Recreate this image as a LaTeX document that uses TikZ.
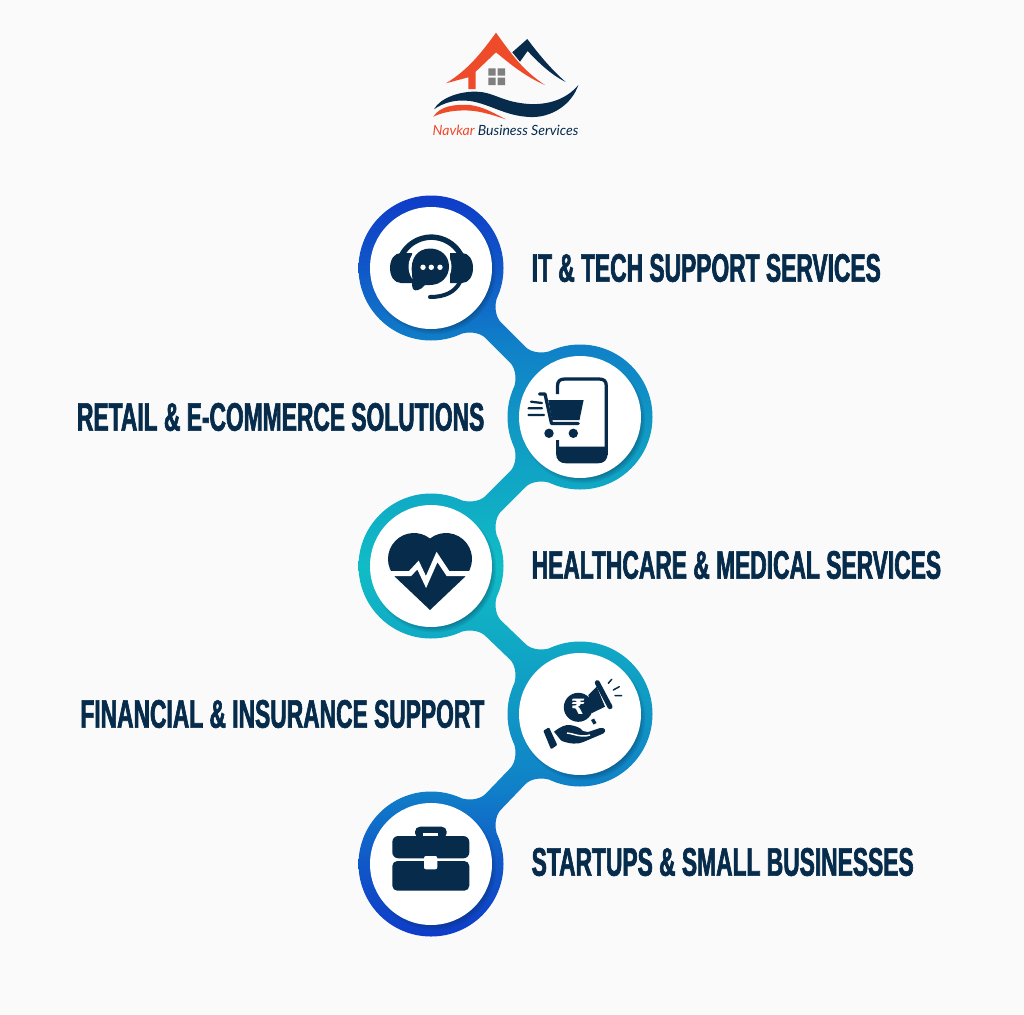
\documentclass[tikz,border=0pt]{standalone}
\usepackage{fontspec}
\usetikzlibrary{positioning,calc,shadows,backgrounds}
\newfontfamily\labelfont[UprightFont=* Bold,FakeStretch=0.574,FakeBold=1.6]{Liberation Sans}
\newfontfamily\logofont{Lato}
\newfontfamily\symbfont{DejaVu Sans}
\definecolor{pagebg}{HTML}{FAFAFB}
\definecolor{navy}{HTML}{062B4B}
\definecolor{roofred}{HTML}{EE4B2B}
\definecolor{panegray}{HTML}{7F7F7F}
\definecolor{ringblue}{HTML}{0F3CC8}
\definecolor{ringmid}{HTML}{1058C8}
\definecolor{ringsky}{HTML}{1080C8}
\definecolor{ringpale}{HTML}{1098C4}
\definecolor{ringteal}{HTML}{10BCC6}
\pgfdeclareverticalshading{ringband}{100bp}{
  color(0bp)=(ringblue);
  color(25bp)=(ringblue);
  color(30bp)=(ringmid);
  color(35bp)=(ringsky);
  color(40.5bp)=(ringpale);
  color(50bp)=(ringteal);
  color(59.5bp)=(ringpale);
  color(65bp)=(ringsky);
  color(70bp)=(ringmid);
  color(75bp)=(ringblue);
  color(100bp)=(ringblue)}
% one neck between two rings, #1 and #2 are the hubs, #3 the direction
\newcommand{\neckpath}[3]{
  ($(#1.center)+(#3:67)+(#3+90:-27)$)
  .. controls ($(#1.center)+(#3:71)+(#3+90:-18)$) and ($(#1.center)+(#3:80)+(#3+90:-11)$) ..
  ($(#1.center)+(#3:88)+(#3+90:-11)$) -- ($(#2.center)+(#3:-88)+(#3+90:-11)$)
  .. controls ($(#2.center)+(#3:-80)+(#3+90:-11)$) and ($(#2.center)+(#3:-71)+(#3+90:-18)$) ..
  ($(#2.center)+(#3:-67)+(#3+90:-27)$)
  -- ($(#2.center)+(#3:-67)+(#3+90:27)$)
  .. controls ($(#2.center)+(#3:-71)+(#3+90:18)$) and ($(#2.center)+(#3:-80)+(#3+90:11)$) ..
  ($(#2.center)+(#3:-88)+(#3+90:11)$) -- ($(#1.center)+(#3:88)+(#3+90:11)$)
  .. controls ($(#1.center)+(#3:80)+(#3+90:11)$) and ($(#1.center)+(#3:71)+(#3+90:18)$) ..
  ($(#1.center)+(#3:67)+(#3+90:27)$) -- cycle
}
\begin{document}
\begin{tikzpicture}[
    x=0.02cm,y=-0.02cm,
    hub/.style={draw=none,circle,fill=white,inner sep=0pt,minimum size=2.44cm,
      circular drop shadow={shadow xshift=0.05cm,shadow yshift=-0.07cm,shadow scale=1.03,fill=navy,opacity=0.55}},
    itemlabel/.style={font=\labelfont\fontsize{22.6pt}{24pt}\selectfont,text=navy,inner sep=0pt},
    iconfill/.style={fill=navy,draw=none},
    iconline/.style={draw=navy,line cap=round,line join=round},
    cutline/.style={draw=white,line join=miter},
  ]
  \useasboundingbox (0,0) rectangle (1024,1014);
  % Hubs
  \node[hub] (it) at (431,268) {};
  \node[hub] (retail) at (580,417) {};
  \node[hub] (health) at (431,566) {};
  \node[hub] (finance) at (580,714) {};
  \node[hub] (startup) at (431,864) {};
  % Page and rings
  \begin{scope}[on background layer]
    \fill[pagebg] (0,0) rectangle (1024,1014);
    \shade[shading=ringband]
      (it.center) circle (72.5) (retail.center) circle (72.5) (health.center) circle (72.5)
      (finance.center) circle (72.5) (startup.center) circle (72.5)
      \neckpath{it}{retail}{45} \neckpath{retail}{health}{135}
      \neckpath{health}{finance}{45} \neckpath{finance}{startup}{135};
  \end{scope}
  % Labels
  \node[itemlabel,right=0.78cm of it] (itlabel) {IT \& TECH SUPPORT SERVICES};
  \node[itemlabel,left=0.68cm of retail] (retaillabel) {RETAIL \& E-COMMERCE SOLUTIONS};
  \node[itemlabel,right=0.78cm of health,yshift=0.02cm] (healthlabel) {HEALTHCARE \& MEDICAL SERVICES};
  \node[itemlabel,left=0.68cm of finance] (financelabel) {FINANCIAL \& INSURANCE SUPPORT};
  \node[itemlabel,right=0.78cm of startup,yshift=0.04cm] (startuplabel) {STARTUPS \& SMALL BUSINESSES};
  % Logo
  \fill[roofred] (496,32.7) .. controls (510,52) and (522,70) .. (545,85)
    .. controls (526,77) and (510,64) .. (496,52.3) -- (475.7,71.7) -- (475.7,89) -- (468.3,89)
    -- (468.3,77.3) -- (446,83.3) .. controls (468,70) and (482,52) .. (496,32.7) -- cycle;
  \fill[navy] (512.3,52.3) -- (527.3,39) .. controls (540,56) and (552,70) .. (565.7,82)
    .. controls (550,74) and (538,62) .. (527.6,51) -- (520,61.7) -- cycle;
  \fill[panegray] (488.3,68.3) rectangle (495.7,75.7) (497.7,68.3) rectangle (505,75.7)
    (488.3,77.7) rectangle (495.7,85) (497.7,77.7) rectangle (505,85);
  \fill[navy] (434,109.3) .. controls (440,98) and (460,91) .. (476.7,91.7)
    .. controls (492,92) and (500,100) .. (520,103) .. controls (545,107) and (566,100) .. (578.3,85)
    .. controls (572,104) and (552,118) .. (530,117) .. controls (505,116) and (490,104) .. (470,101)
    .. controls (455,99) and (443,103) .. (434,109.3) -- cycle;
  \fill[roofred] (433.3,116.7) .. controls (440,106) and (455,104) .. (470,105)
    .. controls (485,107) and (497,115) .. (506,119.3) .. controls (495,116) and (482,111) .. (468,110.5)
    .. controls (455,110) and (443,112) .. (433.3,116.7) -- cycle;
  \node[inner sep=0pt,font=\logofont\itshape\fontsize{8pt}{10pt}\selectfont,text=navy] (logotext) at (505.5,130)
    {\textcolor{roofred}{Navkar} Business Services};
  % Headset icon
  \draw[iconline,line width=0.11cm,line cap=butt] (399,262) arc[start angle=195,end angle=345,radius=33.5];
  \draw[iconfill,fill=navy] (412,253) -- (412,283) -- (401,283) .. controls (394,283) and (390,276) .. (390,268)
    .. controls (390,260) and (394,253) .. (401,253) -- cycle;
  \draw[iconfill,fill=navy] (450,253) -- (450,283) -- (462,283) .. controls (469,283) and (473,276) .. (473,268)
    .. controls (473,260) and (469,253) .. (462,253) -- cycle;
  \fill[white] (430,266.7) circle (21.5);
  \fill[navy] (430,248.5) .. controls (441,248.5) and (449,256) .. (449,266.5)
    .. controls (449,277) and (441,285) .. (430,285) -- (425,285) .. controls (421,290) and (415,292) .. (413,289)
    .. controls (411,285) and (413,280) .. (412,273) .. controls (410,258) and (418,248.5) .. (430,248.5) -- cycle;
  \fill[white] (423,267.3) circle (2.7) (431.3,267.3) circle (2.7) (440,267.3) circle (2.7);
  \draw[iconline,line width=0.08cm] (430,297) .. controls (445,297) and (455,292) .. (460,282);
  % Cart and phone icon
  \draw[iconline,line width=0.065cm,line cap=butt] (557.5,394) -- (557.5,386) .. controls (557.5,381) and (560,379) .. (565,379)
    -- (599,379) .. controls (604,379) and (606.3,381) .. (606.3,386) -- (606.3,455);
  \fill[navy] (556,440) -- (559,440) -- (559,446.7) -- (607.7,446.7) -- (607.7,453) .. controls (607.7,460) and (604,463.3) .. (598,463.3)
    -- (566,463.3) .. controls (560,463.3) and (556,460) .. (556,453) -- cycle;
  \fill[navy] (548.3,400) -- (583.6,400) -- (579.5,420) -- (552,420) -- cycle;
  \draw[iconline,line width=0.065cm] (539.5,394) -- (545,394) -- (551.5,423.5) -- (578.3,423.5);
  \fill[navy] (549,433.3) circle (4.7) (573.3,433.3) circle (4.7);
  \draw[iconline,line width=0.045cm] (531,401.7) -- (542,403) (528.5,408.3) -- (542,408.3) (528.5,415) -- (544,415);
  % Heart icon
  \fill[navy] (430,610) -- (395.6,577.4) arc[start angle=135,end angle=308,radius=26]
    arc[start angle=232,end angle=405,radius=26] -- cycle;
  \draw[cutline,line width=0.1cm] (380,573.6) -- (410,573.6) -- (418,565) -- (426,582) -- (437,557) -- (448,573.6) -- (480,573.6);
  % Hand and megaphone icon
  \fill[navy] (588.3,695) -- (596.7,686.7) -- (605,706.7) -- (592,713) -- cycle;
  \fill[navy] (578.3,707.3) circle (14.5);
  \node[inner sep=0pt,text=white,font=\symbfont\bfseries\fontsize{12pt}{12pt}\selectfont] (rupee) at (578.3,707.3) {₹};
  \draw[iconline,line width=0.1cm] (597.3,682.7) -- (610,706.7);
  \fill[navy] (591,720) -- (594,718.5) -- (596.5,723) -- (593.5,724.5) -- cycle;
  \draw[iconline,line width=0.03cm] (608.3,683.3) -- (611.7,679.3) (613.3,690) -- (619.3,686.7) (615,695.7) -- (621.7,695.7);
  \fill[navy,rounded corners=0.02cm] (543.3,730.7) -- (549,727.3) -- (557.3,745) -- (551,749.3) -- cycle;
  \fill[navy] (554,731.7) .. controls (560,727) and (565,724.5) .. (570,725) .. controls (575,726) and (580,727) .. (583,731)
    -- (588,732) -- (600,728) .. controls (605,727) and (607,731) .. (603.3,733.5) -- (583.3,742)
    .. controls (578,744.5) and (570,744) .. (562,741) -- (560.7,740) -- cycle;
  \draw[cutline,line width=0.03cm] (567,733) .. controls (572,733) and (580,738) .. (590,735);
  % Briefcase icon
  \fill[navy,rounded corners=0.12cm] (392.3,858.3) -- (392.3,836) -- (469.3,836) -- (469.3,858.3) -- cycle;
  \fill[navy,rounded corners=0.1cm] (392.3,861) -- (469.3,861) -- (469.3,890.7) -- (392.3,890.7) -- cycle;
  \fill[navy,rounded corners=0.1cm] (415,838) -- (415,826.7) -- (446.7,826.7) -- (446.7,838) -- cycle;
  \fill[white] (422.7,832.7) rectangle (438.3,836);
  \fill[white,rounded corners=0.04cm] (424,856) rectangle (437.3,869.3);
\end{tikzpicture}
\end{document}
